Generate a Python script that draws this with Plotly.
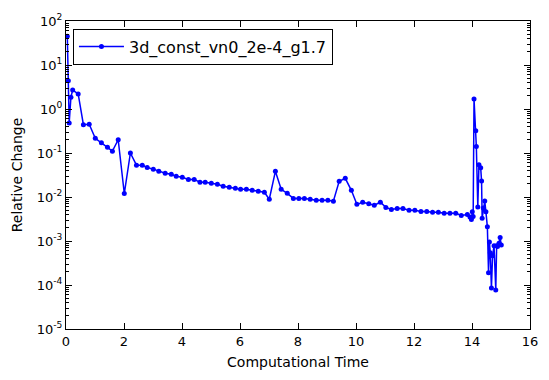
import plotly.graph_objects as go

series_name = "3d_const_vn0_2e-4_g1.7"

time = [0.045, 0.08, 0.11, 0.17, 0.23, 0.42, 0.6, 0.8, 1.01, 1.22, 1.43, 1.6, 1.8,
        2.01, 2.22, 2.43, 2.63, 2.8, 3.01, 3.2, 3.42, 3.63, 3.8, 4.01, 4.22, 4.42,
        4.62, 4.8, 5.01, 5.22, 5.42, 5.63, 5.84, 6.02, 6.22, 6.42, 6.63, 6.84, 7.01,
        7.22, 7.42, 7.63, 7.84, 8.03, 8.22, 8.42, 8.63, 8.83, 9.03, 9.22, 9.42, 9.63,
        9.84, 10.03, 10.23, 10.44, 10.63, 10.84, 11.03, 11.22, 11.42, 11.62, 11.83,
        12.03, 12.24, 12.44, 12.64, 12.84, 13.04, 13.24, 13.44, 13.63, 13.84, 13.93,
        13.98, 14.01, 14.04, 14.07, 14.13, 14.15, 14.2, 14.24, 14.3, 14.33, 14.35,
        14.39, 14.44, 14.48, 14.53, 14.57, 14.6, 14.63, 14.67, 14.71, 14.76, 14.82,
        14.85, 14.88, 14.93, 14.97, 15.01]

rel_change = [45, 4.4, 0.48, 1.86, 2.7, 2.2, 0.44, 0.45, 0.215, 0.17, 0.135, 0.11, 0.2,
              0.012, 0.1, 0.053, 0.053, 0.047, 0.043, 0.0384, 0.0347, 0.0328, 0.0295,
              0.028, 0.0251, 0.0251, 0.0216, 0.0216, 0.0205, 0.0195, 0.0175, 0.0166,
              0.0158, 0.015, 0.015, 0.0142, 0.0135, 0.0128, 0.0089, 0.0384, 0.015,
              0.0121, 0.0093, 0.0093, 0.0093, 0.0089, 0.0084, 0.0084, 0.0084, 0.008,
              0.0227, 0.0266, 0.0142, 0.0068, 0.0076, 0.0070, 0.0065, 0.0076, 0.0058,
              0.0052, 0.0055, 0.0055, 0.0050, 0.0050, 0.0047, 0.0047, 0.0045, 0.0045,
              0.0043, 0.0043, 0.0043, 0.0038, 0.0040, 0.0035, 0.0031, 0.0046, 0.0036,
              1.69, 0.32, 0.14, 0.0059, 0.054, 0.046, 0.023, 0.0033, 0.0056, 0.0081,
              0.0046, 0.0021, 0.00019, 0.00095, 0.00054, 0.000085, 0.00046, 0.00078,
              0.000077, 0.00078, 0.00075, 0.00089, 0.0012, 0.00081]

x_ticks = [0, 2, 4, 6, 8, 10, 12, 14, 16]
y_exponents = [-5, -4, -3, -2, -1, 0, 1, 2]

y_tickvals = [10.0 ** e for e in y_exponents]
y_ticktext = ["10<sup>%d</sup>" % e for e in y_exponents]
y_minor = [m * 10.0 ** e for e in y_exponents[:-1] for m in range(2, 10)]

fig = go.Figure()
fig.add_trace(go.Scatter(
    x=time, y=rel_change, mode="lines+markers", name=series_name,
    line=dict(color="#0000ff", width=1.5),
    marker=dict(color="#0000ff", size=5, symbol="circle"),
))

axis_common = dict(
    showline=True, linecolor="black", linewidth=1, mirror="allticks",
    ticks="inside", ticklen=6, tickcolor="black", tickwidth=1,
    showgrid=False, zeroline=False, automargin=False,
    tickfont=dict(family="DejaVu Sans", size=13, color="black"),
)

fig.update_layout(
    width=549, height=380,
    margin=dict(l=66, r=19, t=21, b=51),
    paper_bgcolor="white", plot_bgcolor="white",
    font=dict(family="DejaVu Sans", color="black"),
    showlegend=True,
    legend=dict(
        x=0.015, y=0.975, xanchor="left", yanchor="top",
        bordercolor="black", borderwidth=1, bgcolor="white",
        itemwidth=45,
        font=dict(family="DejaVu Sans", size=16, color="black"),
    ),
    xaxis=dict(
        range=[0, 16], tickmode="array", tickvals=x_ticks,
        ticktext=[str(v) for v in x_ticks],
        title=dict(text="Computational Time", font=dict(size=14), standoff=9),
        **axis_common,
    ),
    yaxis=dict(
        type="log", range=[-5, 2], tickmode="array",
        tickvals=y_tickvals, ticktext=y_ticktext,
        title=dict(text="Relative Change", font=dict(size=14), standoff=10),
        minor=dict(tickmode="array", tickvals=y_minor, ticks="inside",
                   ticklen=3, tickcolor="black", tickwidth=1, showgrid=False),
        **axis_common,
    ),
)

fig.write_html(
    "out.html",
    config={"displayModeBar": False},
    post_script="document.body.style.margin='0';document.body.style.overflow='hidden';",
)
